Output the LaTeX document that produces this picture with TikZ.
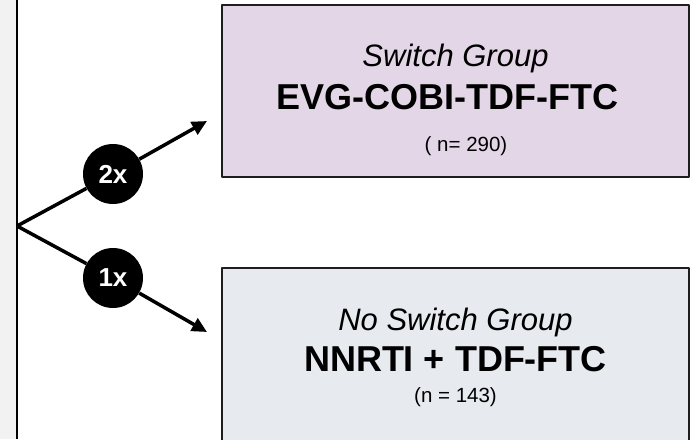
\documentclass[tikz,border=0pt]{standalone}
\usepackage{fontspec}
\setmainfont{Liberation Sans}
\usetikzlibrary{arrows.meta}
\definecolor{switchfill}{HTML}{E3D6E7}
\definecolor{noswitchfill}{HTML}{E7EAEE}
\definecolor{stripgray}{HTML}{F2F2F2}
\definecolor{boxline}{HTML}{1E1E1E}
\begin{document}
\begin{tikzpicture}[x=1pt,y=-1pt,line join=round,>={Triangle[length=15pt,width=14pt]}]
	\tikzset{groupbox/.style={draw=boxline,line width=1.8pt,minimum width=467pt,inner sep=0pt},
		grouplbl/.style={anchor=base,font=\fontsize{31}{36}\selectfont\itshape},
		drugslbl/.style={anchor=base,font=\fontsize{36}{42}\selectfont\bfseries},
		countlbl/.style={anchor=base,font=\fontsize{20.5}{24}\selectfont},
		ratiodot/.style={circle,fill=black,text=white,minimum size=60pt,inner sep=0pt,
			font=\fontsize{26}{30}\selectfont\bfseries},
		branch/.style={line width=3.5pt,->}}
	\clip (0,0) rectangle (692,439);
	\fill[stripgray] (0,0) rectangle (16,439);
	\coordinate (spinetop) at (17,0);
	\coordinate (spinebot) at (17,439);
	\draw[line width=2pt] (spinetop) -- (spinebot);
	% groups
	\node[groupbox,fill=switchfill,minimum height=172pt] (switchbox) at (455.5,91) {};
	\node[grouplbl] (switchname) at (455.5,66) {Switch Group};
	\node[drugslbl] (switchdrugs) at (447,109) {EVG-COBI-TDF-FTC};
	\node[countlbl] (switchn) at (466,151) {( n= 290)};
	\node[groupbox,fill=noswitchfill,minimum height=220pt] (noswitchbox) at (455.5,378) {};
	\node[grouplbl] (noswitchname) at (455.5,330) {No Switch Group};
	\node[drugslbl] (noswitchdrugs) at (455.5,371) {NNRTI + TDF-FTC};
	\node[countlbl] (noswitchn) at (455.5,402) {(n = 143)};
	% randomisation
	\coordinate (split) at (17,226);
	\coordinate (tipA) at (207,121);
	\coordinate (tipB) at (207,332);
	\node[ratiodot] (twice) at (113,174) {2x};
	\node[ratiodot] (once) at (113,278) {1x};
	\draw[line width=3.5pt] (split) -- (twice);
	\draw[branch] (twice) -- (tipA);
	\draw[line width=3.5pt] (split) -- (once);
	\draw[branch] (once) -- (tipB);
\end{tikzpicture}
\end{document}
